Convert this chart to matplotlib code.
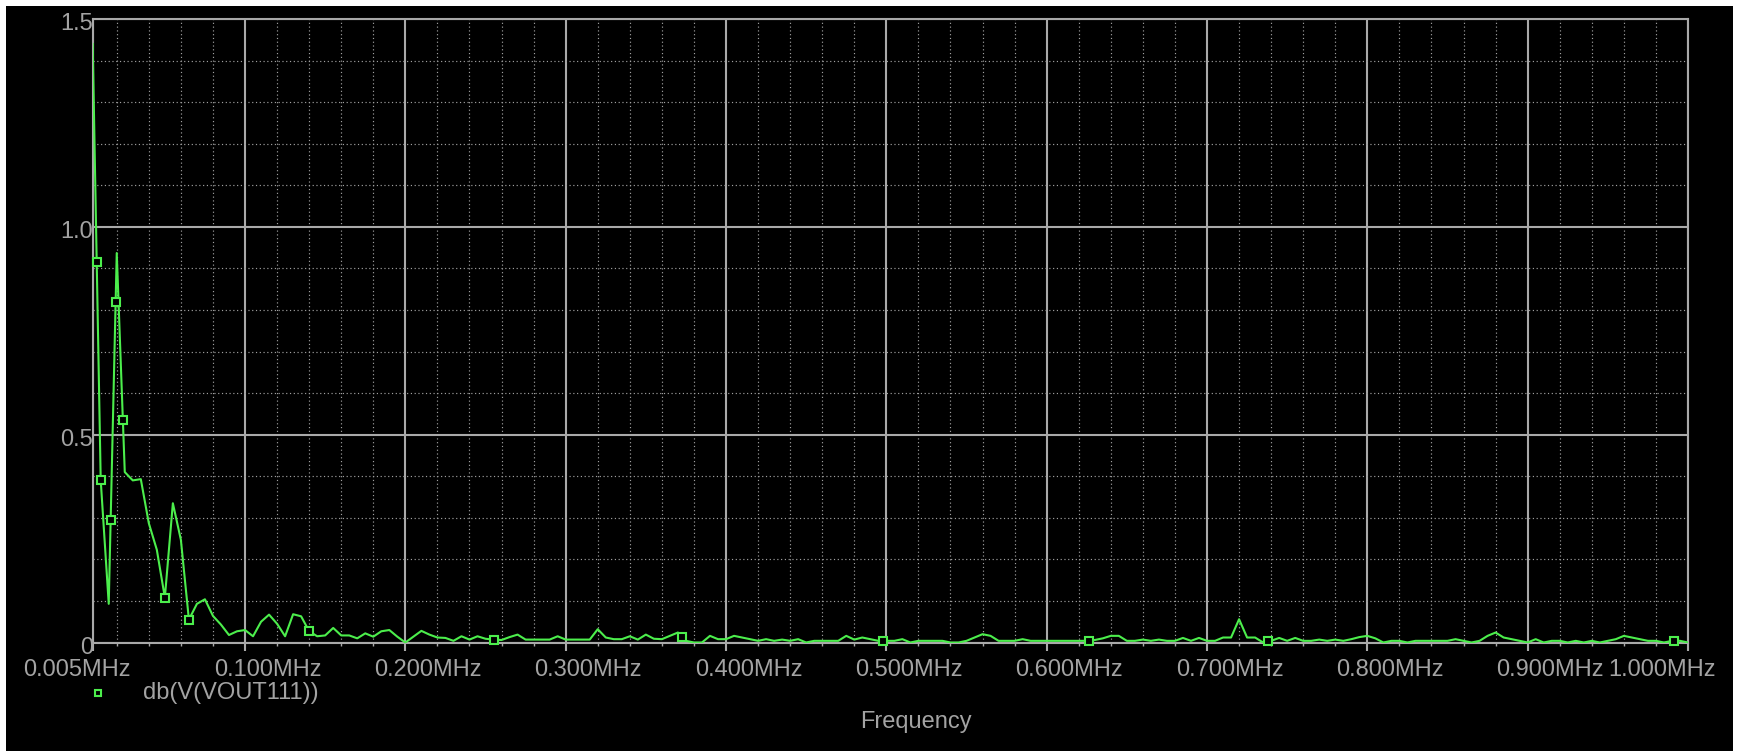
import numpy as np
import matplotlib
matplotlib.use("Agg")
import matplotlib.pyplot as plt
from matplotlib import transforms
from matplotlib.lines import Line2D
from matplotlib.patches import Rectangle
from matplotlib.ticker import FixedLocator, MultipleLocator

# FFT bins: 5 kHz spacing from 0.005 MHz up to 1.000 MHz
freq_mhz = np.round(np.arange(1, 201) * 0.005, 3)

# db(V(VOUT111)) per bin
vout_db = [
    1.44, 0.39, 0.093, 0.937, 0.41, 0.39, 0.393, 0.287, 0.223, 0.108,
    0.335, 0.247, 0.055, 0.093, 0.104, 0.064, 0.043, 0.018, 0.027, 0.03,
    0.015, 0.05, 0.067, 0.045, 0.015, 0.068, 0.063, 0.027, 0.015, 0.017,
    0.035, 0.017, 0.017, 0.01, 0.022, 0.014, 0.027, 0.03, 0.014, 0.0,
    0.014, 0.028, 0.019, 0.012, 0.011, 0.004, 0.015, 0.007, 0.015, 0.009,
    0.007, 0.006, 0.013, 0.019, 0.007, 0.007, 0.007, 0.007, 0.015, 0.007,
    0.007, 0.007, 0.007, 0.032, 0.012, 0.008, 0.008, 0.015, 0.007, 0.019,
    0.009, 0.008, 0.016, 0.024, 0.004, 0.0, 0.0, 0.016, 0.008, 0.008,
    0.016, 0.012, 0.008, 0.004, 0.008, 0.004, 0.007, 0.004, 0.008, 0.0,
    0.004, 0.004, 0.004, 0.004, 0.016, 0.007, 0.012, 0.008, 0.004, 0.004,
    0.004, 0.008, 0.0, 0.004, 0.004, 0.004, 0.004, 0.0, 0.0, 0.004,
    0.012, 0.02, 0.016, 0.004, 0.004, 0.004, 0.008, 0.004, 0.004, 0.004,
    0.004, 0.004, 0.004, 0.004, 0.004, 0.006, 0.01, 0.016, 0.016, 0.004,
    0.004, 0.007, 0.004, 0.007, 0.004, 0.004, 0.011, 0.004, 0.011, 0.004,
    0.004, 0.012, 0.012, 0.056, 0.012, 0.012, 0.0, 0.004, 0.011, 0.004,
    0.011, 0.004, 0.004, 0.007, 0.004, 0.007, 0.004, 0.008, 0.013, 0.016,
    0.01, 0.0, 0.004, 0.004, 0.0, 0.004, 0.004, 0.004, 0.004, 0.004,
    0.008, 0.004, 0.0, 0.004, 0.016, 0.024, 0.012, 0.008, 0.004, 0.0,
    0.008, 0.0, 0.004, 0.004, 0.0, 0.004, 0.0, 0.004, 0.0, 0.004,
    0.008, 0.016, 0.012, 0.008, 0.004, 0.004, 0.0, 0.004, 0.004, 0.0,
]

# where the trace symbols sit along the curve (MHz)
symbol_freq = [0.0075, 0.0100, 0.0162, 0.0193, 0.0238, 0.050, 0.065,
               0.140, 0.255, 0.3724, 0.4977, 0.6266, 0.7382, 0.9915]

x_ticks = [0.005, 0.1, 0.2, 0.3, 0.4, 0.5, 0.6, 0.7, 0.8, 0.9, 1.0]
x_labels = ["0.005MHz", "0.100MHz", "0.200MHz", "0.300MHz", "0.400MHz",
            "0.500MHz", "0.600MHz", "0.700MHz", "0.800MHz", "0.900MHz",
            "1.000MHz"]
y_ticks = [0.0, 0.5, 1.0, 1.5]
y_labels = ["0", "0.5", "1.0", "1.5"]

trace_name = "db(V(VOUT111))"
x_title = "Frequency"

W, H = 1739, 753
GREEN = "#4cee4c"
GRID = "#a9a9a9"
DOT = "#a0a0a0"
TEXT = "#a3a3a3"
FONT = "Liberation Sans"
FS = 17

fig = plt.figure(figsize=(W / 100, H / 100), dpi=100, facecolor="white")
fig.patches.append(Rectangle((6 / W, 2 / H), (1733 - 6) / W, (751 - 6) / H,
                             transform=fig.transFigure, facecolor="black",
                             edgecolor="none", zorder=-10))

left, right, top, bottom = 92.7, 1688.0, 19.0, 642.5
ax = fig.add_axes([left / W, 1 - bottom / H, (right - left) / W, (bottom - top) / H])
ax.set_zorder(1)
ax.set_facecolor("black")
ax.set_xlim(0.005, 1.0)
ax.set_ylim(0, 1.5)

ax.xaxis.set_major_locator(FixedLocator(x_ticks))
ax.xaxis.set_minor_locator(FixedLocator(np.round(np.arange(0.02, 1.0, 0.02), 3)))
ax.yaxis.set_major_locator(FixedLocator(y_ticks))
ax.yaxis.set_minor_locator(MultipleLocator(0.1))
ax.set_xticklabels([])
ax.set_yticklabels([])

ax.grid(which="major", color=GRID, lw=1.5, ls="-", zorder=1)
ax.grid(which="minor", color=DOT, lw=0.85, ls=(0, (1, 2.2)), zorder=1)
ax.set_axisbelow(True)

for s in ax.spines.values():
    s.set_color(GRID)
    s.set_linewidth(1.5)

ax.tick_params(axis="x", which="major", direction="out", length=5.8, width=1.5, color=GRID)
ax.tick_params(axis="x", which="minor", direction="out", length=2.2, width=1.0, color=GRID)
ax.tick_params(axis="y", which="both", length=0)

# x tick labels, nudged the way the probe window lays them out
xoff = [-16] + [22.5] * (len(x_ticks) - 2) + [-26]
xtrans = transforms.blended_transform_factory(ax.transData, ax.transAxes)
for xv, lab, dx in zip(x_ticks, x_labels, xoff):
    ax.text(xv, 0, lab, transform=xtrans + transforms.ScaledTranslation(dx / 100, -28 / 100, fig.dpi_scale_trans),
            ha="center", va="center", color=TEXT, fontsize=FS, family=FONT, clip_on=False)

ytrans = transforms.blended_transform_factory(ax.transAxes, ax.transData)
for yv, lab in zip(y_ticks, y_labels):
    ax.text(0, yv, lab, transform=ytrans + transforms.ScaledTranslation(0.5 / 100, -5 / 100, fig.dpi_scale_trans),
            ha="right", va="center", color=TEXT, fontsize=FS, family=FONT, clip_on=False)

ax.plot(freq_mhz, vout_db, color=GREEN, lw=1.5, zorder=3)
ax.plot(symbol_freq, np.interp(symbol_freq, freq_mhz, vout_db), ls="none",
        marker="s", ms=6.2, mfc="black", mec=GREEN, mew=1.5, zorder=4, clip_on=False)

# legend entry and axis title
fig.add_artist(Line2D([98 / W], [1 - 692.7 / H], transform=fig.transFigure, marker="s",
                      ms=5, mfc="black", mec=GREEN, mew=1.5, ls="none"))
fig.text(142.7 / W, 1 - 692.5 / H, trace_name, ha="left", va="center",
         color=TEXT, fontsize=FS, family=FONT)
fig.text(916 / W, 1 - 722 / H, x_title, ha="center", va="center",
         color=TEXT, fontsize=FS, family=FONT)

fig.savefig("out.png", dpi=100, facecolor="white")
